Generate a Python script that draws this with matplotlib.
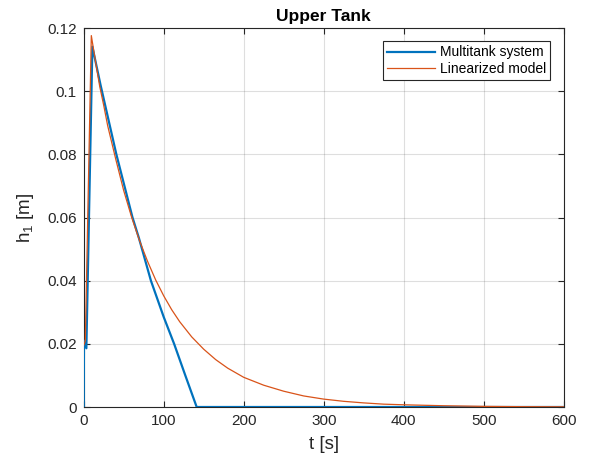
import matplotlib.pyplot as plt

plt.rcParams["font.family"] = ["Liberation Sans", "DejaVu Sans"]
plt.rcParams["mathtext.fontset"] = "custom"
plt.rcParams["mathtext.rm"] = "Liberation Sans"

# values
t_system = [0, 0.3, 3.3, 10.8, 21, 40.8, 61, 69, 84, 100, 113, 127, 141.2, 600]
h_system = [0, 0.021, 0.0186, 0.1141, 0.102, 0.080, 0.060, 0.0535, 0.040,
            0.0285, 0.020, 0.0100, 0, 0]

t_model = [0, 2, 9.5, 15, 20, 25, 30, 40, 50, 60, 70, 80, 90, 100, 110, 120,
           135, 150, 165, 180, 200, 225, 250, 275, 300, 325, 350, 375, 400,
           450, 500, 550, 600]
h_model = [0.0195, 0.021, 0.1176, 0.109, 0.1015, 0.0955, 0.089, 0.0785,
           0.0685, 0.0600, 0.0525, 0.0460, 0.0402, 0.0352, 0.0308, 0.0270,
           0.0222, 0.0183, 0.0150, 0.0123, 0.0094, 0.0069, 0.0050, 0.0035,
           0.0025, 0.0018, 0.0013, 0.0009, 0.0007, 0.0004, 0.0002, 0.0001,
           0.00006]

x_ticks = [0, 100, 200, 300, 400, 500, 600]
y_ticks = [0, 0.02, 0.04, 0.06, 0.08, 0.1, 0.12]
y_tick_labels = ["0", "0.02", "0.04", "0.06", "0.08", "0.1", "0.12"]

axis_color = "#262626"

fig = plt.figure(figsize=(5.9, 4.57), dpi=100)
ax = fig.add_axes([0.1419, 0.1094, 0.8135, 0.8293])

ax.plot(t_system, h_system, color="#0072BD", linewidth=1.6,
        label="Multitank system", zorder=3)
ax.plot(t_model, h_model, color="#D95319", linewidth=0.9,
        label="Linearized model", zorder=4)

ax.set_xlim(0, 600)
ax.set_ylim(0, 0.12)
ax.set_xticks(x_ticks)
ax.set_yticks(y_ticks)
ax.set_yticklabels(y_tick_labels)

ax.grid(True, color="#262626", alpha=0.15, linewidth=0.8)
ax.set_axisbelow(True)
ax.tick_params(direction="in", length=4, width=0.8, colors=axis_color,
               labelsize=11, top=True, right=True, pad=5)
for spine in ax.spines.values():
    spine.set_color(axis_color)
    spine.set_linewidth(0.8)

ax.set_title("Upper Tank", fontsize=12.5, fontweight="bold", color="black",
             pad=5)
ax.set_xlabel("t [s]", fontsize=13.5, color=axis_color, labelpad=6)
ax.set_ylabel(r"h$_\mathregular{1}$ [m]", fontsize=13.5, color=axis_color,
              labelpad=8)

leg = ax.legend(loc="upper right", fontsize=10, fancybox=False, framealpha=1,
                edgecolor=axis_color, borderaxespad=0.95, handlelength=3.4,
                borderpad=0.3, labelspacing=0.2, handletextpad=0.4)
leg.get_frame().set_linewidth(0.8)

fig.savefig("out.png", dpi=100)
